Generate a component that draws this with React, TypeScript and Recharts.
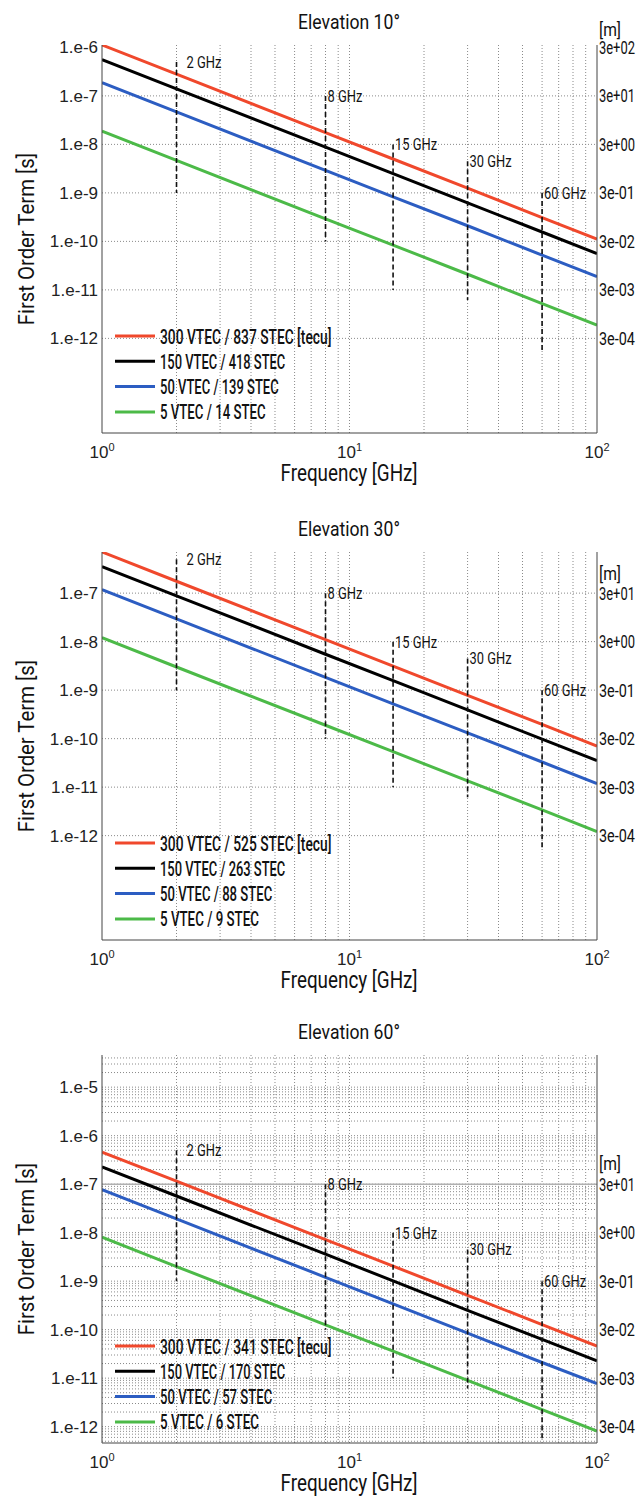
import React from 'react';
import { LineChart, Line, XAxis, YAxis, ReferenceLine, ReferenceDot, Legend } from 'recharts';

// frequencies [GHz] where the curves are read
const FREQ = [1, 2, 8, 15, 30, 60, 100];

// first order term [s], elevation 10
const RED_10 = [1.12e-6, 2.8e-7, 1.75e-8, 5.0e-9, 1.25e-9, 3.1e-10, 1.12e-10];
const BLACK_10 = [5.6e-7, 1.4e-7, 8.8e-9, 2.5e-9, 6.2e-10, 1.56e-10, 5.6e-11];
const BLUE_10 = [1.87e-7, 4.7e-8, 2.9e-9, 8.3e-10, 2.1e-10, 5.2e-11, 1.87e-11];
const GREEN_10 = [1.88e-8, 4.7e-9, 2.9e-10, 8.4e-11, 2.1e-11, 5.2e-12, 1.88e-12];

// elevation 30
const RED_30 = [7.05e-7, 1.76e-7, 1.1e-8, 3.13e-9, 7.8e-10, 1.96e-10, 7.05e-11];
const BLACK_30 = [3.53e-7, 8.8e-8, 5.5e-9, 1.57e-9, 3.9e-10, 9.8e-11, 3.53e-11];
const BLUE_30 = [1.18e-7, 2.95e-8, 1.84e-9, 5.2e-10, 1.31e-10, 3.3e-11, 1.18e-11];
const GREEN_30 = [1.21e-8, 3.0e-9, 1.89e-10, 5.4e-11, 1.34e-11, 3.4e-12, 1.21e-12];

// elevation 60
const RED_60 = [4.58e-7, 1.15e-7, 7.2e-9, 2.04e-9, 5.1e-10, 1.27e-10, 4.58e-11];
const BLACK_60 = [2.28e-7, 5.7e-8, 3.6e-9, 1.01e-9, 2.5e-10, 6.3e-11, 2.28e-11];
const BLUE_60 = [7.7e-8, 1.92e-8, 1.2e-9, 3.4e-10, 8.5e-11, 2.1e-11, 7.7e-12];
const GREEN_60 = [8.1e-9, 2.0e-9, 1.26e-10, 3.6e-11, 9.0e-12, 2.25e-12, 8.1e-13];

const NAMES_10 = ['300 VTEC / 837 STEC [tecu]', '150 VTEC / 418 STEC', '50 VTEC / 139 STEC', '5 VTEC / 14 STEC'];
const NAMES_30 = ['300 VTEC / 525 STEC [tecu]', '150 VTEC / 263 STEC', '50 VTEC / 88 STEC', '5 VTEC / 9 STEC'];
const NAMES_60 = ['300 VTEC / 341 STEC [tecu]', '150 VTEC / 170 STEC', '50 VTEC / 57 STEC', '5 VTEC / 6 STEC'];

const Y_DOMAIN_10 = [1.12e-14, 1.12e-6];
const Y_DOMAIN_30 = [7.05e-15, 7.05e-7];
const Y_DOMAIN_60 = [4.6e-13, 4.6e-5];

const Y_TICKS_10 = [1e-6, 1e-7, 1e-8, 1e-9, 1e-10, 1e-11, 1e-12];
const Y_TICKS_30 = [1e-7, 1e-8, 1e-9, 1e-10, 1e-11, 1e-12];
const Y_TICKS_60 = [1e-5, 1e-6, 1e-7, 1e-8, 1e-9, 1e-10, 1e-11, 1e-12];

const M_TICKS_10 = [3e2, 3e1, 3, 3e-1, 3e-2, 3e-3, 3e-4];
const M_TICKS_30 = [3e1, 3, 3e-1, 3e-2, 3e-3, 3e-4];
const M_TICKS_60 = [3e1, 3, 3e-1, 3e-2, 3e-3, 3e-4];

const X_TICKS = [1, 10, 100];
const X_GRID = [2, 3, 4, 5, 6, 7, 8, 9, 10, 20, 30, 40, 50, 60, 70, 80, 90];
const Y_GRID_10 = [1e-7, 1e-8, 1e-9, 1e-10, 1e-11, 1e-12];
const Y_GRID_30 = [1e-7, 1e-8, 1e-9, 1e-10, 1e-11, 1e-12];
const MINOR = [1, 2, 3, 4, 5, 6, 7, 8, 9];
const DECADES_60 = [1e-13, 1e-12, 1e-11, 1e-10, 1e-9, 1e-8, 1e-7, 1e-6, 1e-5];

const MARKER_FREQ = [2, 8, 15, 30, 60];
const MARKER_TOP = [5e-7, 1e-7, 1e-8, 4.5e-9, 1e-9];
const MARKER_BOTTOM = [1e-9, 1e-10, 1e-11, 6.2e-12, 5.5e-13];
const MARKER_LABELS = ['2 GHz', '8 GHz', '15 GHz', '30 GHz', '60 GHz'];

const C = 3e8; // right axis in metres
const W = 639;
const H = 488;
const COND = 'Roboto';
const COLORS = ['#f0482c', '#000000', '#2c5dc2', '#4cba48'];

const PANELS = [
  { top: 0, title: 'Elevation 10°', red: RED_10, black: BLACK_10, blue: BLUE_10, green: GREEN_10, names: NAMES_10,
    yDomain: Y_DOMAIN_10, yTicks: Y_TICKS_10, mTicks: M_TICKS_10, yGrid: Y_GRID_10, mOff: 17, solid: [] as number[] },
  { top: 507, title: 'Elevation 30°', red: RED_30, black: BLACK_30, blue: BLUE_30, green: GREEN_30, names: NAMES_30,
    yDomain: Y_DOMAIN_30, yTicks: Y_TICKS_30, mTicks: M_TICKS_30, yGrid: Y_GRID_30, mOff: 19, solid: [] as number[] },
  { top: 1010, title: 'Elevation 60°', red: RED_60, black: BLACK_60, blue: BLUE_60, green: GREEN_60, names: NAMES_60,
    yDomain: Y_DOMAIN_60, yTicks: Y_TICKS_60, mTicks: M_TICKS_60,
    yGrid: DECADES_60.flatMap(d => MINOR.map(k => k * d)).filter(v => v > Y_DOMAIN_60[0] && v < Y_DOMAIN_60[1]),
    mOff: 20, solid: [1e-7] },
];

// condensed text: squeeze a normal font horizontally to the measured width
let ctx: CanvasRenderingContext2D | null = null;
const measure = (s: string, size: number, weight: number) => {
  if (!ctx) ctx = document.createElement('canvas').getContext('2d');
  if (!ctx) return s.length * size * 0.5;
  ctx.font = `${weight} ${size}px ${COND}`;
  return ctx.measureText(s).width || 1;
};

const CondText = ({ x, y, size, len, anchor = 'start', rotate = 0, weight = 400, children }: any) => {
  const s = String(children);
  const sx = len / measure(s, size, weight);
  return (
    <g transform={`translate(${x} ${y}) rotate(${rotate}) scale(${sx} 1)`}>
      <text x={0} y={0} fontFamily={COND} fontSize={size} fontWeight={weight} fill="#111" textAnchor={anchor}>{s}</text>
    </g>
  );
};

const fmtS = (v: number) => '1.e' + Math.round(Math.log10(v));
const fmtM = (v: number) => {
  const e = Math.round(Math.log10(v / 3));
  return '3e' + (e < 0 ? '-' : '+') + String(Math.abs(e)).padStart(2, '0');
};

const XTick = ({ x, y, payload }: any) => (
  <text x={x} y={y + 25} textAnchor="middle" fontFamily="'Liberation Sans', Arial, sans-serif" fontSize={17} fill="#222">
    10<tspan dy={-7} fontSize={11}>{Math.round(Math.log10(payload.value))}</tspan>
  </text>
);

const STick = ({ x, y, payload }: any) => (
  <text x={x} y={y + 6} textAnchor="end" fontFamily="'Liberation Sans', Arial, sans-serif" fontSize={17} fill="#222">
    {fmtS(payload.value)}
  </text>
);

const makeMTick = (mOff: number) => ({ x, y, payload, index }: any) => (
  <g>
    {index === 0 && <CondText x={x} y={y - mOff + 6} size={18} len={22}>[m]</CondText>}
    <CondText x={x} y={y + 6.5} size={18} len={36}>{fmtM(payload.value)}</CondText>
  </g>
);

const makeLegend = (names: string[]) => ({ payload }: any) => {
  const items = [...(payload || [])].sort((a: any, b: any) => names.indexOf(a.value) - names.indexOf(b.value));
  return (
    <svg width={300} height={105} style={{ display: 'block' }}>
      {items.map((e: any, i: number) => (
        <g key={i} transform={`translate(0, ${13 + i * 25.3})`}>
          <line x1={0} x2={40} y1={0} y2={0} stroke={e.color} strokeWidth={3} />
          <CondText x={45} y={7.5} size={21} weight={500} len={String(e.value).length * 6.6}>{e.value}</CondText>
        </g>
      ))}
    </svg>
  );
};

function Panel({ p }: any) {
  const data = FREQ.map((f, i) => ({ f, red: p.red[i], black: p.black[i], blue: p.blue[i], green: p.green[i] }));
  const MTick = makeMTick(p.mOff);
  const LegendBox = makeLegend(p.names);
  return (
    <div style={{ position: 'absolute', left: 0, top: p.top, width: W, height: H }}>
      <LineChart width={W} height={H} data={data} margin={{ top: 45, right: 2, bottom: 5, left: 42 }}>
        <XAxis dataKey="f" type="number" scale="log" domain={[1, 100]} ticks={X_TICKS} interval={0} allowDataOverflow
          height={50} tickSize={0} tickMargin={0} axisLine={{ stroke: '#444' }} tick={<XTick />} />
        <YAxis type="number" scale="log" domain={p.yDomain} ticks={p.yTicks} interval={0} allowDataOverflow
          width={60} tickSize={0} tickMargin={4} axisLine={{ stroke: '#444' }} tick={<STick />} />
        <YAxis yAxisId="m" orientation="right" type="number" scale="log" domain={[p.yDomain[0] * C, p.yDomain[1] * C]}
          ticks={p.mTicks} interval={0} allowDataOverflow width={40} tickSize={0} tickMargin={2}
          axisLine={{ stroke: '#444' }} tick={<MTick />} />
        {X_GRID.map(v => (
          <ReferenceLine key={'gx' + v} x={v} stroke="#8a8a8a" strokeDasharray="1 2" />
        ))}
        {p.yGrid.map((v: number) => (
          <ReferenceLine key={'gy' + v} y={v} stroke="#8a8a8a" strokeDasharray="1 2" />
        ))}
        {p.solid.map((v: number) => (
          <ReferenceLine key={'sy' + v} y={v} stroke="#b0b0b0" strokeWidth={1.5} />
        ))}
        <Line dataKey="red" name={p.names[0]} stroke={COLORS[0]} strokeWidth={3} dot={false} isAnimationActive={false} />
        <Line dataKey="black" name={p.names[1]} stroke={COLORS[1]} strokeWidth={3} dot={false} isAnimationActive={false} />
        <Line dataKey="blue" name={p.names[2]} stroke={COLORS[2]} strokeWidth={3} dot={false} isAnimationActive={false} />
        <Line dataKey="green" name={p.names[3]} stroke={COLORS[3]} strokeWidth={3} dot={false} isAnimationActive={false} />
        {MARKER_FREQ.map((f, i) => (
          <ReferenceLine key={'mk' + f} segment={[{ x: f, y: MARKER_TOP[i] }, { x: f, y: MARKER_BOTTOM[i] }]}
            stroke="#111" strokeWidth={1.6} strokeDasharray="5 3" />
        ))}
        {MARKER_FREQ.map((f, i) => (
          <ReferenceDot key={'ml' + f} x={f} y={MARKER_TOP[i]} r={0} fill="none" stroke="none"
            label={(lp: any) => {
              const vb = lp.viewBox || {};
              return <CondText x={vb.x + (i === 0 ? 10 : 2)} y={vb.y + 6} size={16} len={MARKER_LABELS[i].length * 7}>{MARKER_LABELS[i]}</CondText>;
            }} />
        ))}
        <Legend layout="vertical" align="center" verticalAlign="middle" content={<LegendBox />}
          wrapperStyle={{ left: 115, top: 45 + 278, width: 300, height: 105 }} />
      </LineChart>
      <svg width={W} height={H + 10} style={{ position: 'absolute', left: 0, top: 0, pointerEvents: 'none', overflow: 'visible' }}>
        <CondText x={349} y={29} size={21} len={102} anchor="middle">{p.title}</CondText>
        <CondText x={349} y={481} size={24} len={137} anchor="middle">Frequency [GHz]</CondText>
        <CondText x={34} y={239} size={22} len={173} anchor="middle" rotate={-90}>First Order Term [s]</CondText>
      </svg>
    </div>
  );
}

export default function App() {
  return (
    <div style={{ position: 'absolute', left: 0, top: 0, width: W, height: 1498, background: '#fff' }}>
      {PANELS.map((p, i) => <Panel key={i} p={p} />)}
    </div>
  );
}
